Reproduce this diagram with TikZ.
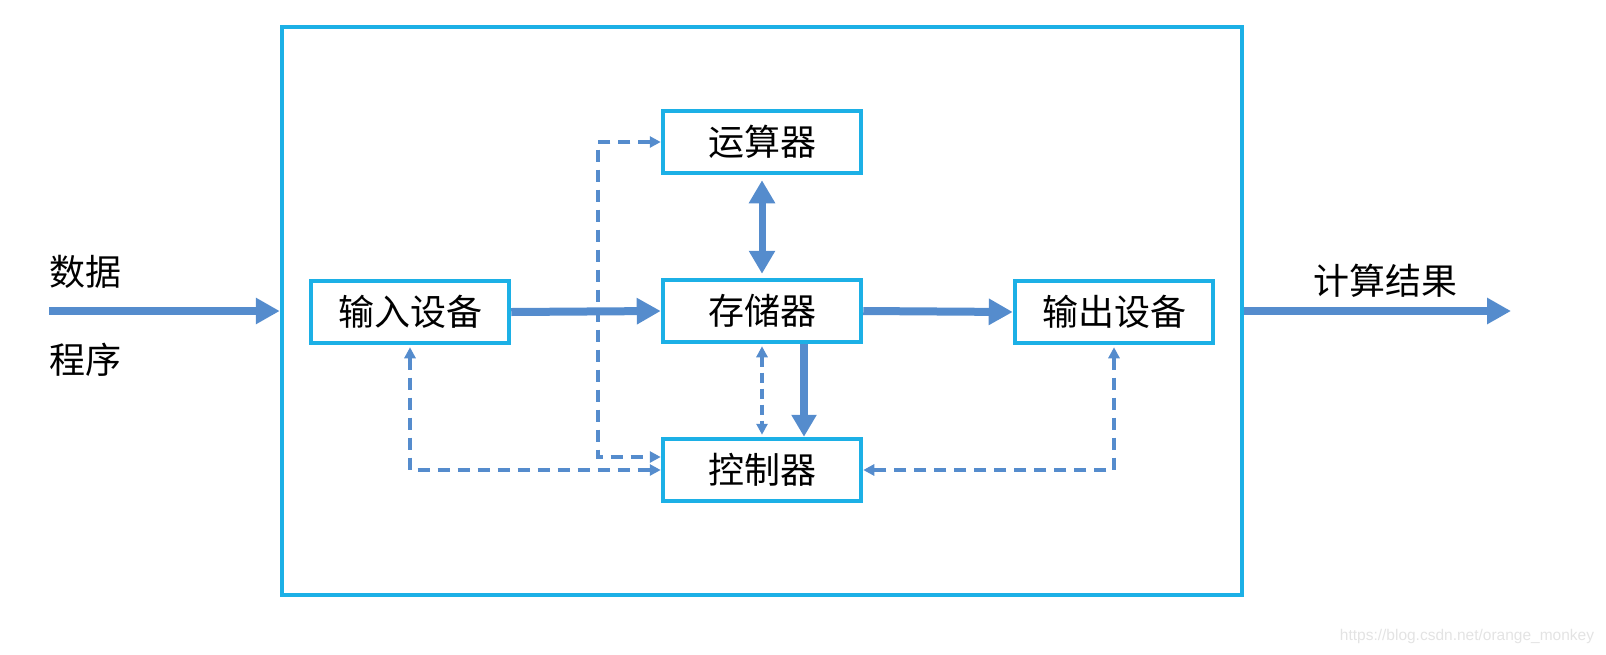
\documentclass[tikz,border=0pt]{standalone}
\usepackage{fontspec}
\newfontfamily\cjk{Noto Sans CJK SC}
\setsansfont{Liberation Sans}
\usepackage{tikz}
\usepackage{xcolor}
\usetikzlibrary{arrows.meta, positioning}

\definecolor{boxblue}{RGB}{28,176,230}
\definecolor{flowblue}{RGB}{85,140,205}

\begin{document}
\begin{tikzpicture}[x=1pt, y=-1pt,
  unitbox/.style={draw=boxblue, line width=4.5pt, minimum width=198pt, minimum height=62pt, inner sep=0pt, font=\cjk\fontsize{36}{40}\selectfont},
  sidetext/.style={font=\cjk\fontsize{36}{40}\selectfont},
  bigflow/.style={draw=flowblue, line width=8pt, -{Triangle[length=24pt,width=25pt]}},
  ctlflow/.style={draw=flowblue, line width=3.2pt, dash pattern=on 12pt off 8pt, {Triangle[length=11pt,width=11pt]}-{Triangle[length=11pt,width=11pt]}}]
\useasboundingbox (0,0) rectangle (1606,654);

% host frame
\node[draw=boxblue, line width=4.5pt, minimum width=960pt, minimum height=568pt] (host) at (762,311) {};

% units
\node[unitbox] (inbox) at (410,312) {输入设备};
\node[unitbox] (alu) at (762,142) {运算器};
\node[unitbox] (mem) at (762,311) {存储器};
\node[unitbox] (ctrl) at (762,470) {控制器};
\node[unitbox] (outbox) at (1114,312) {输出设备};

% outside labels
\node[sidetext] (data) at (85,272) {数据};
\node[sidetext] (prog) at (85,360) {程序};
\node[sidetext] (result) at (1385,281) {计算结果};
\coordinate (datain) at (49,311);
\coordinate (resultend) at (1511,311);

% data paths
\draw[bigflow] (datain) -- (host.west);
\draw[bigflow] (host.east) -- (resultend);
\draw[bigflow] (inbox.east) -- (mem.west);
\draw[bigflow] (mem.east) -- (outbox.west);
\draw[bigflow, line width=7pt, {Triangle[length=23pt,width=25pt]}-{Triangle[length=23pt,width=25pt]}, shorten <=5pt, shorten >=4pt] (alu.south) -- (mem.north);
\draw[bigflow, -{Triangle[length=22pt,width=24pt]}] ([xshift=42pt]mem.south) -- ([xshift=42pt]ctrl.north);

% control paths
\coordinate (ctlbend) at (598,457);
\draw[ctlflow] (alu.west) -| (ctlbend) -- (ctlbend -| ctrl.west);
\draw[ctlflow, dash pattern=on 10pt off 6pt, shorten <=2pt, shorten >=2pt] (mem.south) -- (ctrl.north);
\draw[ctlflow, shorten <=2pt] (inbox.south) |- (ctrl.west);
\draw[ctlflow, shorten <=2pt] (outbox.south) |- (ctrl.east);

% watermark
\node[text=gray!22, font=\sffamily\fontsize{15.5}{17}\selectfont] (mark) at (1467,636) {https://blog.csdn.net/orange\_monkey};
\end{tikzpicture}
\end{document}
